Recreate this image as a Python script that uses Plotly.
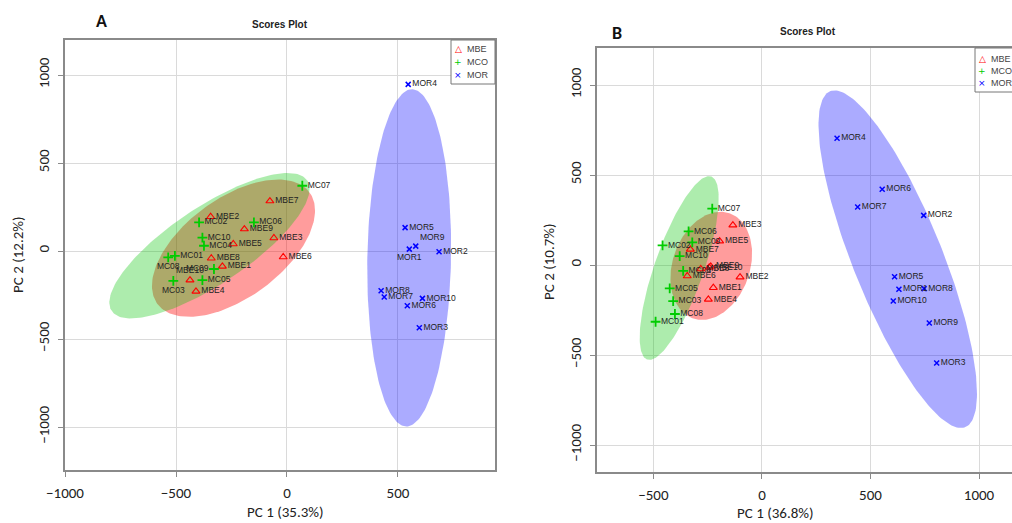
import numpy as np
import plotly.graph_objects as go

W, H = 1012, 523

# ---------------- Panel A data ----------------
a_mbe_names = ["MBE1", "MBE2", "MBE3", "MBE4", "MBE5", "MBE6", "MBE7", "MBE8", "MBE9", "MBE10"]
a_mbe_x = [-291, -344, -59, -410, -242, -17, -77, -341, -192, -437]
a_mbe_y = [-87, 195, 74, -229, 40, -34, 284, -41, 125, -165]

a_mco_names = ["MC01", "MC02", "MC03", "MC04", "MC05", "MC06", "MC07", "MC08", "MC09", "MC10"]
a_mco_x = [-505, -396, -512, -374, -381, -149, 69, -535, -329, -381]
a_mco_y = [-28, 163, -169, 30, -165, 163, 371, -36, -102, 76]

a_mor_names = ["MOR1", "MOR2", "MOR3", "MOR4", "MOR5", "MOR6", "MOR7", "MOR8", "MOR9", "MOR10"]
a_mor_x = [551, 685, 596, 546, 532, 542, 438, 424, 580, 610]
a_mor_y = [11, -4, -436, 947, 133, -311, -261, -226, 28, -269]

# ---------------- Panel B data ----------------
b_mbe_names = ["MBE1", "MBE2", "MBE3", "MBE4", "MBE5", "MBE6", "MBE7", "MBE8", "MBE9", "MBE10"]
b_mbe_x = [-224, -101, -134, -247, -195, -344, -330, -282, -236, -243]
b_mbe_y = [-126, -67, 222, -191, 133, -61, 87, -22, -7, -13]

b_mco_names = ["MC01", "MC02", "MC03", "MC04", "MC05", "MC06", "MC07", "MC08", "MC09", "MC10"]
b_mco_x = [-490, -458, -409, -363, -425, -338, -229, -401, -321, -379]
b_mco_y = [-315, 109, -200, -32, -130, 187, 313, -272, 126, 50]

b_mor_names = ["MOR1", "MOR2", "MOR3", "MOR4", "MOR5", "MOR6", "MOR7", "MOR8", "MOR9", "MOR10"]
b_mor_x = [631, 745, 805, 346, 611, 554, 441, 747, 771, 605]
b_mor_y = [-135, 276, -544, 704, -65, 421, 322, -131, -322, -200]

group_names = ["MBE", "MCO", "MOR"]
a_ticks_x = [-1000, -500, 0, 500]
b_ticks_x = [-500, 0, 500, 1000]
ticks_y = [-1000, -500, 0, 500, 1000]

# ---------------- styles ----------------
MARK = {
    "MBE": dict(symbol="triangle-up-open", size=7, color="#FF0000", line=dict(width=1.1, color="#FF0000")),
    "MCO": dict(symbol="cross-thin-open", size=7, color="#00CC00", line=dict(width=1.8, color="#00CC00")),
    "MOR": dict(symbol="x-thin-open", size=5, color="#0000FF", line=dict(width=1.5, color="#0000FF")),
}
FILL = {"MBE": "rgba(255,0,0,0.39)", "MCO": "rgba(0,197,0,0.32)", "MOR": "rgba(0,0,255,0.33)"}
ELLIPSE_ORDER = ["MBE", "MCO", "MOR"]
LEG_SYM = {"MBE": "\u25B3", "MCO": "+", "MOR": "\u00D7"}
LEG_COL = {"MBE": "#FF0000", "MCO": "#00CC00", "MOR": "#0000FF"}

label_pos_a = {"MC08": "bottom center", "MC03": "bottom center", "MC09": "middle left",
               "MBE10": "top center", "MOR1": "bottom center", "MOR9": "top right"}
label_pos_b = {}

TICKFONT = dict(family="Carlito, Lato, sans-serif", size=15, color="#222")
LABFONT = dict(family="Liberation Sans, Arial, sans-serif", size=8.5, color="#222")


def conf_ellipse(x, y, level_scale=2.4477, n=200):
    x = np.asarray(x, float)
    y = np.asarray(y, float)
    cov = np.cov(x, y)
    vals, vecs = np.linalg.eigh(cov)
    t = np.linspace(0, 2 * np.pi, n)
    circ = np.vstack([np.cos(t), np.sin(t)])
    pts = vecs @ (np.sqrt(vals)[:, None] * circ) * level_scale
    return pts[0] + x.mean(), pts[1] + y.mean()


fig = go.Figure()

panels = [
    ("x", "y", {"MBE": (a_mbe_names, a_mbe_x, a_mbe_y), "MCO": (a_mco_names, a_mco_x, a_mco_y),
                "MOR": (a_mor_names, a_mor_x, a_mor_y)}, label_pos_a),
    ("x2", "y2", {"MBE": (b_mbe_names, b_mbe_x, b_mbe_y), "MCO": (b_mco_names, b_mco_x, b_mco_y),
                  "MOR": (b_mor_names, b_mor_x, b_mor_y)}, label_pos_b),
]

for xa, ya, groups, lpos in panels:
    for g in ELLIPSE_ORDER:
        _, gx, gy = groups[g]
        ex, ey = conf_ellipse(gx, gy)
        fig.add_trace(go.Scatter(x=ex, y=ey, mode="lines", fill="toself", fillcolor=FILL[g],
                                 line=dict(width=0), hoverinfo="skip", showlegend=False,
                                 xaxis=xa, yaxis=ya))
    for g in group_names:
        names, gx, gy = groups[g]
        pos = [lpos.get(n, "middle right") for n in names]
        fig.add_trace(go.Scatter(x=gx, y=gy, mode="markers+text", text=names, textposition=pos,
                                 textfont=LABFONT, marker=MARK[g], name=g, showlegend=False,
                                 cliponaxis=False, xaxis=xa, yaxis=ya))


def px_x(p):
    return p / W


def px_y(p):
    return 1 - p / H


axis_common = dict(showgrid=True, gridcolor="#DADADA", gridwidth=1, zeroline=False,
                   showline=True, mirror=True, linecolor="#8A8A8A", linewidth=1.5,
                   ticks="outside", ticklen=5, tickcolor="#8A8A8A", tickfont=TICKFONT,
                   ticklabelstandoff=3, automargin=False)

fig.update_layout(
    width=W, height=H, margin=dict(l=0, r=0, t=0, b=0, autoexpand=False),
    paper_bgcolor="white", plot_bgcolor="white", showlegend=False,
    xaxis=dict(domain=[px_x(65), px_x(495)], range=[-1000, 937], tickvals=a_ticks_x,
               anchor="y", **axis_common),
    yaxis=dict(domain=[px_y(470), px_y(40)], range=[-1244, 1199], tickvals=ticks_y,
               tickangle=-90, anchor="x", **axis_common),
    xaxis2=dict(domain=[px_x(597), 1.0], range=[-760, 1152], tickvals=b_ticks_x,
                anchor="y2", **axis_common),
    yaxis2=dict(domain=[px_y(472), px_y(48)], range=[-1150, 1206], tickvals=ticks_y,
                tickangle=-90, anchor="x2", **axis_common),
)

ann = []
shapes = []
TITLE_FONT = dict(family="Carlito, Lato, sans-serif", size=15, color="#222")


def add_text(text, px, py, font, angle=0, xanchor="center"):
    ann.append(dict(text=text, x=px_x(px), y=px_y(py), xref="paper", yref="paper",
                    xanchor=xanchor, yanchor="middle", showarrow=False, textangle=angle, font=font))


# panel letters
add_text("<b>A</b>", 101, 21, dict(family="Carlito, Lato, sans-serif", size=18, color="#111"))
add_text("<b>B</b>", 617, 33, dict(family="Carlito, Lato, sans-serif", size=18, color="#111"))
# plot titles
for cx, cy in [(280, 24), (808, 31)]:
    add_text("<b>Scores Plot</b>", cx, cy, dict(family="Liberation Sans, Arial, sans-serif", size=10, color="#222"))
# axis titles
add_text("PC 1 (35.3%)", 285, 512, TITLE_FONT)
add_text("PC 2 (12.2%)", 18, 255, TITLE_FONT, angle=-90)
add_text("PC 1 (36.8%)", 775, 513, TITLE_FONT)
add_text("PC 2 (10.7%)", 549, 262, TITLE_FONT, angle=-90)

# legends (drawn as boxed text)
for (lx0, ly0, lx1, ly1, rows) in [(451, 40, 495, 84, [49, 62, 75]), (975, 48, 1019, 92, [59, 71, 83])]:
    shapes.append(dict(type="rect", xref="paper", yref="paper", x0=px_x(lx0), x1=px_x(lx1),
                       y0=px_y(ly1), y1=px_y(ly0), line=dict(color="#777", width=1), fillcolor="white"))
    for g, ry in zip(group_names, rows):
        add_text(LEG_SYM[g], lx0 + 7, ry, dict(family="DejaVu Sans, sans-serif", size=9, color=LEG_COL[g]))
        add_text(g, lx0 + 14, ry, dict(family="Liberation Sans, Arial, sans-serif", size=9, color="#444"),
                 xanchor="left")

fig.update_layout(annotations=ann, shapes=shapes)
fig.write_html("out.html")
